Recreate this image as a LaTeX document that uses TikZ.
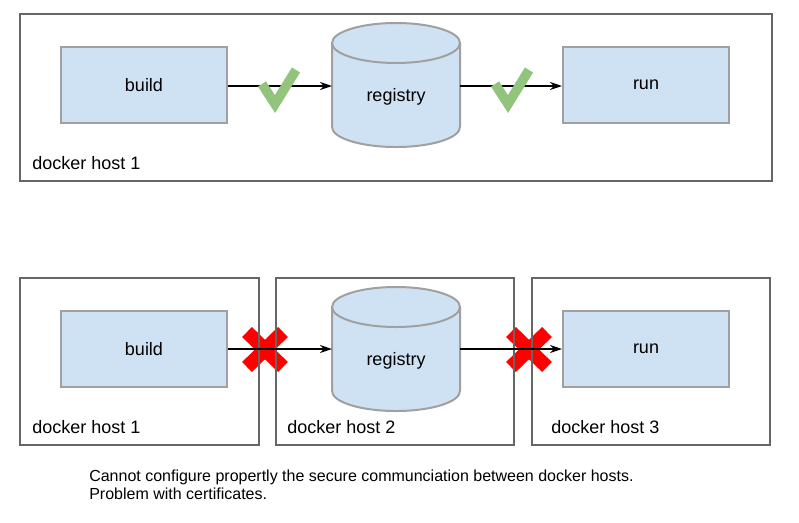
\documentclass[tikz,border=0pt]{standalone}
\usepackage{fontspec}
\setmainfont{Liberation Sans}
\usetikzlibrary{arrows.meta}
\definecolor{boxfill}{HTML}{CFE2F3}
\definecolor{boxline}{HTML}{A0A0A0}
\definecolor{hostline}{HTML}{666666}
\definecolor{okgreen}{HTML}{93C47D}
\definecolor{badred}{HTML}{FF0000}
\tikzset{
  hostbox/.style={draw=hostline, line width=0.8pt},
  procbox/.style={draw=boxline, fill=boxfill, line width=1.5pt, minimum width=166*0.75pt, minimum height=76*0.75pt, inner sep=0pt, font=\fontsize{13.5pt}{16pt}\selectfont},
  cylbox/.style={inner sep=0pt, minimum width=128*0.75pt, minimum height=124*0.75pt},
  cylshape/.style={draw=boxline, fill=boxfill, line width=1.5pt},
  hostlabel/.style={anchor=base west, inner sep=0pt, font=\fontsize{13.5pt}{16pt}\selectfont},
  flow/.style={-{Stealth[length=9pt,width=6pt]}, line width=1.1pt, black},
  okmark/.style={draw=okgreen, line width=7.2pt, line join=miter, line cap=butt},
  badmark/.style={draw=badred, line width=10.5pt, line cap=butt},
  caption/.style={anchor=base west, inner sep=0pt, font=\fontsize{12pt}{14pt}\selectfont, align=left}
}
\begin{document}
\begin{tikzpicture}[x=0.75pt, y=-0.75pt]
\useasboundingbox (0,0) rectangle (799,522);
% ---------- top scenario ----------
\draw[hostbox] (20,14) rectangle (772,181);
\node[hostlabel] (t-h1) at (32,169) {docker host 1};
\node[procbox] (t-build) at (144,85) {build};
\node[procbox] (t-run) at (646,85) {run};
\node[cylbox] (t-reg) at (396,85) {};
\draw[cylshape] (332,43) -- (332,127) arc[start angle=180, end angle=0, x radius=64, y radius=20] -- (460,43) arc[start angle=0, end angle=-180, x radius=64, y radius=20] -- cycle;
\draw[cylshape, fill=none] (332,43) arc[start angle=180, end angle=0, x radius=64, y radius=20];
\node[inner sep=0pt, font=\fontsize{13.5pt}{16pt}\selectfont] (t-regtxt) at (396,97) {registry};
\coordinate (t-regw) at (332,86);
\coordinate (t-rege) at (460,86);
\draw[flow] (t-build.east |- t-regw) -- (t-regw);
\draw[flow] (t-rege) -- (t-run.west |- t-rege);
\draw[okmark] (262,84) -- (275,104) -- (296,70);
\draw[okmark] (495,84) -- (508,104) -- (529,70);
% ---------- bottom scenario ----------
\draw[badmark] (247,332) -- (283,367);
\draw[badmark] (247,367) -- (283,332);
\draw[badmark] (511,332) -- (547,367);
\draw[badmark] (511,367) -- (547,332);
\draw[hostbox] (20,278) rectangle (259,445);
\draw[hostbox] (276,278) rectangle (514,445);
\draw[hostbox] (532,278) rectangle (770,445);
\node[hostlabel] (b-h1) at (32,433) {docker host 1};
\node[hostlabel] (b-h2) at (287,433) {docker host 2};
\node[hostlabel] (b-h3) at (551,433) {docker host 3};
\node[procbox] (b-build) at (144,349) {build};
\node[procbox] (b-run) at (646,349) {run};
\node[cylbox] (b-reg) at (396,349) {};
\draw[cylshape] (332,307) -- (332,391) arc[start angle=180, end angle=0, x radius=64, y radius=20] -- (460,307) arc[start angle=0, end angle=-180, x radius=64, y radius=20] -- cycle;
\draw[cylshape, fill=none] (332,307) arc[start angle=180, end angle=0, x radius=64, y radius=20];
\node[inner sep=0pt, font=\fontsize{13.5pt}{16pt}\selectfont] (b-regtxt) at (396,361) {registry};
\coordinate (b-regw) at (332,349);
\coordinate (b-rege) at (460,349);
\draw[flow] (b-build.east |- b-regw) -- (b-regw);
\draw[flow] (b-rege) -- (b-run.west |- b-rege);
% ---------- caption ----------
\node[caption] (cap1) at (89,481) {Cannot configure propertly the secure communciation between docker hosts.};
\node[caption] (cap2) at (89,499) {Problem with certificates.};
\end{tikzpicture}
\end{document}
